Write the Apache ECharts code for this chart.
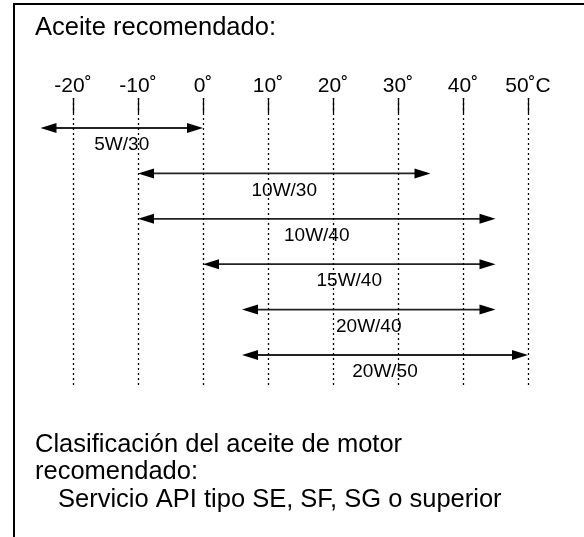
<!DOCTYPE html>
<html>
<head>
<meta charset="utf-8">
<style>
  html, body { margin: 0; padding: 0; background: #fff; }
  #chart { width: 584px; height: 537px; }
</style>
<script src="https://cdn.jsdelivr.net/npm/echarts@6/dist/echarts.min.js"></script>
</head>
<body>
<div id="chart"></div>
<script>
// temperaturas de la escala (grados C)
var temps = [-20, -10, 0, 10, 20, 30, 40, 50];
// aceites y su rango de temperatura
var oils = ['5W/30', '10W/30', '10W/40', '15W/40', '20W/40', '20W/50'];
var tempFrom = [-25, -10, -10, 0, 6, 6];
var tempTo = [0, 35, 45, 45, 45, 50];

var FONT = '"Liberation Sans", Arial, Helvetica, sans-serif';

var chart = echarts.init(document.getElementById('chart'));

var rows = oils.map(function (name, i) {
  return [tempFrom[i], tempTo[i], i, name];
});

// flecha doble con texto debajo
function renderArrow(params, api) {
  var a = api.coord([api.value(0), api.value(2)]);
  var b = api.coord([api.value(1), api.value(2)]);
  var len = 16, half = 5;
  return {
    type: 'group',
    children: [
      {
        type: 'line',
        shape: {x1: a[0] + 4, y1: a[1], x2: b[0] - 4, y2: b[1]},
        style: {stroke: '#222', lineWidth: 1.8}
      },
      {
        type: 'polygon',
        shape: {points: [[a[0], a[1]], [a[0] + len, a[1] - half], [a[0] + len, a[1] + half]]},
        style: {fill: '#000'}
      },
      {
        type: 'polygon',
        shape: {points: [[b[0], b[1]], [b[0] - len, b[1] - half], [b[0] - len, b[1] + half]]},
        style: {fill: '#000'}
      },
      {
        type: 'text',
        style: {
          text: api.value(3),
          x: (a[0] + b[0]) / 2,
          y: a[1] + 17,
          align: 'center',
          verticalAlign: 'middle',
          fontSize: 19,
          fontFamily: FONT,
          fill: '#000'
        }
      }
    ]
  };
}

var option = {
  animation: false,
  grid: {left: 40.5, width: 520, top: 98, height: 290},
  xAxis: {
    type: 'value',
    position: 'top',
    min: -25,
    max: 55,
    axisLine: {show: false, onZero: false},
    splitLine: {show: false},
    axisTick: {
      show: true,
      inside: true,
      length: 15,
      customValues: temps,
      lineStyle: {color: '#000', width: 1.3}
    },
    axisLabel: {
      customValues: temps,
      margin: 1,
      fontSize: 21,
      fontFamily: FONT,
      color: '#000',
      formatter: function (v) {
        return v === temps[temps.length - 1] ? v + '˚C' : v + '˚';
      }
    }
  },
  yAxis: {
    type: 'value',
    inverse: true,
    min: -0.661,
    max: 5.727,
    show: false
  },
  series: [
    {
      type: 'custom',
      renderItem: renderArrow,
      encode: {x: [0, 1], y: 2},
      data: rows,
      markLine: {
        silent: true,
        symbol: 'none',
        label: {show: false},
        lineStyle: {type: [2, 3], color: '#000', width: 1.3},
        data: temps.map(function (t) { return {xAxis: t}; })
      }
    }
  ],
  graphic: [
    {type: 'line', shape: {x1: 13, y1: 4, x2: 584, y2: 4}, style: {stroke: '#000', lineWidth: 2}},
    {type: 'line', shape: {x1: 14, y1: 3, x2: 14, y2: 537}, style: {stroke: '#000', lineWidth: 2}},
    {type: 'text', left: 35, top: 15, style: {text: 'Aceite recomendado:', fontSize: 25.5, fontFamily: FONT, fill: '#000'}},
    {type: 'text', left: 35, top: 432, style: {text: 'Clasificación del aceite de motor', fontSize: 25.5, fontFamily: FONT, fill: '#000'}},
    {type: 'text', left: 35, top: 459, style: {text: 'recomendado:', fontSize: 25.5, fontFamily: FONT, fill: '#000'}},
    {type: 'text', left: 58, top: 487, style: {text: 'Servicio API tipo SE, SF, SG o superior', fontSize: 25.5, fontFamily: FONT, fill: '#000'}}
  ]
};

chart.setOption(option);
</script>
</body>
</html>
